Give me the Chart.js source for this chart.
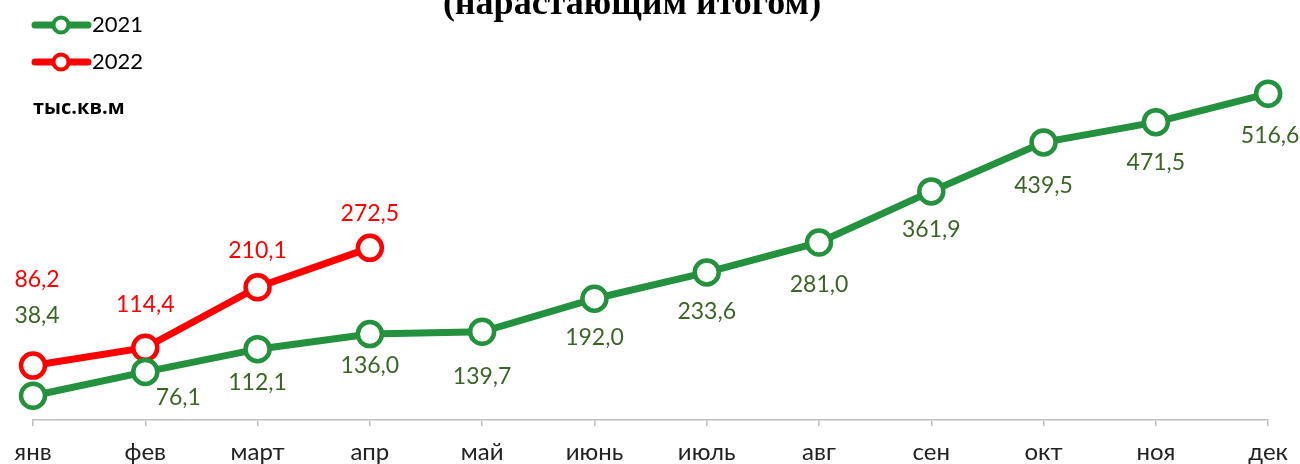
<!DOCTYPE html>
<html>
<head>
<meta charset="utf-8">
<script src="https://cdn.jsdelivr.net/npm/chart.js@4.4.1/dist/chart.umd.min.js"></script>
<style>
  html, body { margin: 0; padding: 0; background: #fff; }
  #wrap { width: 1300px; height: 464px; }
</style>
</head>
<body>
<div id="wrap"><canvas id="chart"></canvas></div>
<script>
const months = ['янв', 'фев', 'март', 'апр', 'май', 'июнь', 'июль', 'авг', 'сен', 'окт', 'ноя', 'дек'];
const values2021 = [38.4, 76.1, 112.1, 136.0, 139.7, 192.0, 233.6, 281.0, 361.9, 439.5, 471.5, 516.6];
const values2022 = [86.2, 114.4, 210.1, 272.5];
const titleText = '(нарастающим итогом)';
const unitText = 'тыс.кв.м';

const GREEN = '#24913e';
const GREEN_TEXT = '#3b6526';
const RED = '#ff0000';

// label offsets (dx, dy) from the point, in px
const offsets2021 = [[4, -80], [33, 26], [0, 33], [0, 31], [0, 45], [0, 39], [0, 39], [0, 42], [0, 38], [0, 43], [0, 40], [2, 42]];
const offsets2022 = [[4, -86], [0, -43], [0, -37], [0, -34]];

const fmt = v => v.toFixed(1).replace('.', ',');

const extras = {
    id: 'extras',
    afterDraw(chart) {
        const ctx = chart.ctx;
        ctx.save();
        // title (cut off at the top)
        ctx.fillStyle = '#000';
        ctx.font = 'bold 36px "Liberation Serif"';
        ctx.textAlign = 'center';
        ctx.textBaseline = 'alphabetic';
        ctx.fillText(titleText, 632, 14);

        // legend
        const items = [['2021', GREEN, 25], ['2022', RED, 62]];
        items.forEach(([txt, col, y]) => {
            ctx.strokeStyle = col;
            ctx.lineWidth = 7;
            ctx.lineCap = 'round';
            ctx.beginPath();
            ctx.moveTo(35, y);
            ctx.lineTo(88, y);
            ctx.stroke();
            ctx.beginPath();
            ctx.arc(61, y, 7.5, 0, Math.PI * 2);
            ctx.fillStyle = '#fff';
            ctx.fill();
            ctx.lineWidth = 4;
            ctx.stroke();
            ctx.fillStyle = '#000';
            ctx.font = '22px Lato';
            ctx.textAlign = 'left';
            ctx.textBaseline = 'middle';
            ctx.fillText(txt, 92, y);
        });

        // unit
        ctx.font = 'bold 20px "Open Sans"';
        ctx.fillText(unitText, 33, 108);

        // data labels
        ctx.font = '23px Lato';
        ctx.textAlign = 'center';
        ctx.textBaseline = 'middle';
        [[0, offsets2021, GREEN_TEXT], [1, offsets2022, RED]].forEach(([di, offs, col]) => {
            const meta = chart.getDatasetMeta(di);
            const data = chart.data.datasets[di].data;
            ctx.fillStyle = col;
            meta.data.forEach((pt, i) => {
                ctx.fillText(fmt(data[i]), pt.x + offs[i][0], pt.y + offs[i][1]);
            });
        });
        ctx.restore();
    }
};

new Chart(document.getElementById('chart'), {
    type: 'line',
    data: {
        labels: months,
        datasets: [{
            label: '2021',
            data: values2021,
            borderColor: GREEN,
            borderWidth: 7,
            pointRadius: 12,
            pointBorderWidth: 4.5,
            pointBackgroundColor: '#fff',
            pointBorderColor: GREEN,
            tension: 0
        }, {
            label: '2022',
            data: values2022,
            borderColor: RED,
            borderWidth: 7,
            pointRadius: 12,
            pointBorderWidth: 4.5,
            pointBackgroundColor: '#fff',
            pointBorderColor: RED,
            tension: 0
        }]
    },
    options: {
        responsive: true,
        maintainAspectRatio: false,
        animation: false,
        layout: { padding: { left: 33, right: 30, top: 41, bottom: 0 } },
        plugins: {
            legend: { display: false },
            title: { display: false },
            tooltip: { enabled: false }
        },
        scales: {
            x: {
                offset: false,
                grid: { display: true, drawOnChartArea: false, drawTicks: true, tickLength: 6, color: '#bfbfbf', lineWidth: 1.5 },
                border: { display: true, color: '#bfbfbf', width: 1.5 },
                ticks: { color: '#222', font: { family: 'Lato', size: 24 }, padding: 12, maxRotation: 0, autoSkip: false },
                afterFit(scale) { scale.height = 44; }
            },
            y: {
                display: false,
                min: 0,
                max: 600
            }
        }
    },
    plugins: [extras]
});
</script>
</body>
</html>
